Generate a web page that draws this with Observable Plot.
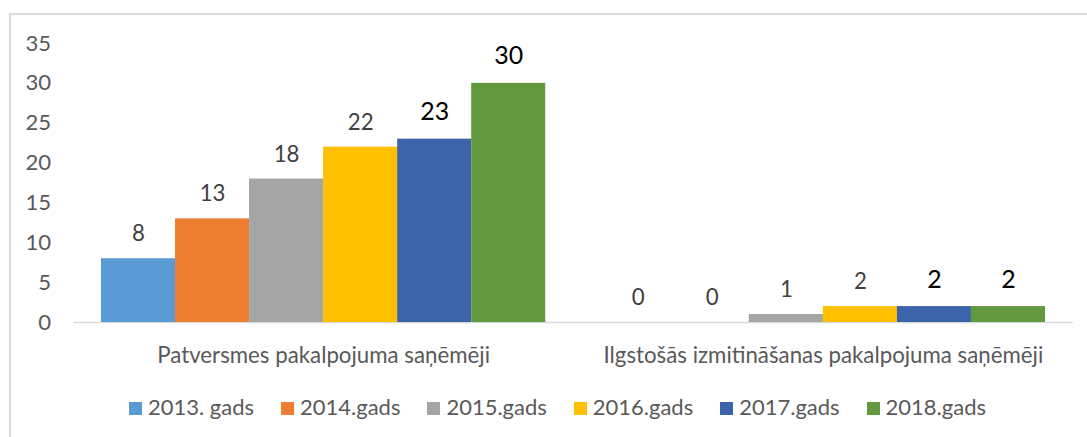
<!DOCTYPE html>
<html>
<head>
<meta charset="utf-8">
<script src="https://cdn.jsdelivr.net/npm/d3@7"></script>
<script src="https://cdn.jsdelivr.net/npm/@observablehq/plot@0.6"></script>
<style>
  html, body { margin: 0; padding: 0; background: #fff; }
  #wrap { position: relative; width: 1087px; height: 437px; overflow: hidden; font-family: Lato, sans-serif; }
  #border { position: absolute; left: 9px; top: 13px; width: 1200px; height: 600px; border-left: 2px solid #d9d9d9; border-top: 2px solid #d9d9d9; box-sizing: border-box; }
  #chart { position: absolute; left: 0; top: 0; }
  #legend { position: absolute; left: 129px; top: 396px; display: flex; align-items: baseline; line-height: 1; color: #595959; white-space: nowrap; }
  .item { display: inline-flex; align-items: baseline; margin-right: 27px; }
  .sw { display: inline-block; width: 13px; height: 13px; margin-right: 6px; }
</style>
</head>
<body>
<div id="wrap">
  <div id="border"></div>
  <div id="chart"></div>
  <div id="legend"></div>
</div>
<script>
// ---- data ----
const categories = ["Patversmes pakalpojuma saņēmēji", "Ilgstošās izmitināšanas pakalpojuma saņēmēji"];
const years = ["2013. gads", "2014.gads", "2015.gads", "2016.gads", "2017.gads", "2018.gads"];
const patversme = [8, 13, 18, 22, 23, 30];
const ilgstosa = [0, 0, 1, 2, 2, 2];
const yTicks = [0, 5, 10, 15, 20, 25, 30, 35];
const colors = ["#5b9bd5", "#ed7d31", "#a5a5a5", "#ffc000", "#3d64ab", "#62993e"];
const boldYears = ["2017.gads", "2018.gads"];

const seriesByCategory = [patversme, ilgstosa];
const data = categories.flatMap((c, i) =>
  years.map((y, j) => ({category: c, year: y, value: seriesByCategory[i][j]}))
);

// ---- font fitting (Calibri-like widths with Lato) ----
function fit(text, target, family) {
  const ctx = document.createElement("canvas").getContext("2d");
  ctx.font = `100px ${family}`;
  const w = ctx.measureText(text).width;
  return w > 0 ? 100 * target / w : 22;
}
let f = fit(categories[1], 440, "Lato") / 23.7;
if (!(f > 0.7 && f < 1.2)) f = 0.91;
const fsCat = 23.7 * f, fsTick = 23.5 * f, fsLab = 23.7 * f, fsBig = 26.5 * f, fsLeg = 23.4 * f;

const chart = Plot.plot({
  width: 1087,
  height: 380,
  marginLeft: 101,
  marginRight: 42,
  marginTop: 43,
  marginBottom: 58,
  style: {fontFamily: "Lato, sans-serif", background: "transparent", overflow: "visible"},
  fx: {domain: categories, paddingInner: 0.75 / 6.75, paddingOuter: 0, label: null, round: false},
  x: {domain: years, padding: 0, axis: null, round: false},
  y: {domain: [0, 35], label: null},
  color: {domain: years, range: colors},
  marks: [
    Plot.axisY({ticks: yTicks, tickSize: 0, tickPadding: 50.5, fontSize: fsTick, color: "#595959", label: null}),
    Plot.axisFx({anchor: "bottom", tickSize: 0, tickPadding: 40 - 0.71 * fsCat, fontSize: fsCat, color: "#595959", label: null}),
    Plot.ruleY([0], {stroke: "#d9d9d9", strokeWidth: 1.6, insetLeft: -27.75, insetRight: -27.75}),
    Plot.barY(data, {fx: "category", x: "year", y: "value", fill: "year"}),
    Plot.text(data.filter(d => !boldYears.includes(d.year)), {
      fx: "category", x: "year", y: "value", text: d => String(d.value),
      lineAnchor: "bottom", dy: -17.5, fill: "#404040", fontSize: fsLab
    }),
    Plot.text(data.filter(d => boldYears.includes(d.year)), {
      fx: "category", x: "year", y: "value", text: d => String(d.value),
      lineAnchor: "bottom", dy: -19, fill: "#000000", fontSize: fsBig
    })
  ]
});
document.getElementById("chart").appendChild(chart);

// ---- legend ----
const legend = document.getElementById("legend");
legend.style.fontSize = fsLeg + "px";
years.forEach((y, i) => {
  const item = document.createElement("span");
  item.className = "item";
  const sw = document.createElement("span");
  sw.className = "sw";
  sw.style.background = colors[i];
  const t = document.createElement("span");
  t.textContent = y;
  item.appendChild(sw);
  item.appendChild(t);
  legend.appendChild(item);
});
</script>
</body>
</html>
